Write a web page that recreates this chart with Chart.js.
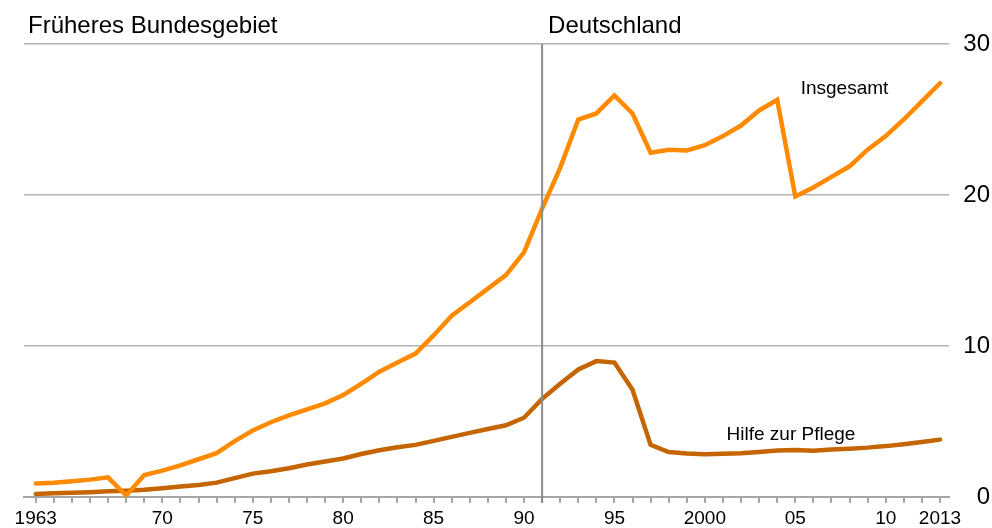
<!DOCTYPE html>
<html>
<head>
<meta charset="utf-8">
<script src="https://cdn.jsdelivr.net/npm/chart.js@4.4.1/dist/chart.umd.min.js"></script>
<style>
  body { margin: 0; background: #ffffff; }
  #wrap { width: 992px; height: 528px; }
</style>
</head>
<body>
<div id="wrap"><canvas id="sozialhilfeChart"></canvas></div>
<script>
/* ================= DATA ================= */
const years = [];
for (let y = 1963; y <= 2013; y++) years.push(y);

const insgesamt = [
  0.9, 0.95, 1.05, 1.15, 1.3, 0.1, 1.45, 1.75, 2.1, 2.5,
  2.9, 3.7, 4.4, 4.95, 5.4, 5.8, 6.2, 6.75, 7.5, 8.3,
  8.9, 9.5, 10.7, 12.0, 12.9, 13.8, 14.7, 16.2, 19.1, 21.8,
  25.0, 25.4, 26.6, 25.4, 22.8, 23.0, 22.95, 23.3, 23.9, 24.6,
  25.6, 26.3, 19.9, 20.5, 21.2, 21.9, 23.0, 23.9, 25.0, 26.2,
  27.4
];

const hilfeZurPflege = [
  0.2, 0.25, 0.28, 0.32, 0.38, 0.42, 0.48, 0.58, 0.7, 0.8,
  0.95, 1.25, 1.55, 1.7, 1.9, 2.15, 2.35, 2.55, 2.85, 3.1,
  3.3, 3.45, 3.72, 3.98, 4.25, 4.5, 4.75, 5.25, 6.5, 7.5,
  8.45, 9.0, 8.9, 7.1, 3.45, 2.98, 2.88, 2.83, 2.87, 2.9,
  2.98, 3.08, 3.12, 3.06, 3.15, 3.2, 3.27, 3.37, 3.5, 3.64,
  3.8
];

const labelYears = [1963, 1970, 1975, 1980, 1985, 1990, 1995, 2000, 2005, 2010, 2013];
const tickLabels = ["1963", "70", "75", "80", "85", "90", "95", "2000", "05", "10", "2013"];
const yTicks = [0, 10, 20, 30];
const splitYear = 1991;

const FONT = "'Liberation Sans', Arial, sans-serif";

/* ================= TEXT + DIVIDER PLUGIN ================= */
const overlayPlugin = {
  id: "overlay",
  afterDatasetsDraw(chart) {
    const { ctx, chartArea, scales } = chart;
    const x = scales.x;
    const y = scales.y;
    const xs = x.getPixelForValue(splitYear);

    ctx.save();
    ctx.strokeStyle = "#8c8c8c";
    ctx.lineWidth = 2;
    ctx.beginPath();
    ctx.moveTo(xs, chartArea.top);
    ctx.lineTo(xs, chartArea.bottom + 6);
    ctx.stroke();

    ctx.fillStyle = "#000000";
    ctx.textBaseline = "alphabetic";
    ctx.textAlign = "left";
    ctx.font = "24px " + FONT;
    ctx.fillText("Früheres Bundesgebiet", 28, 33);
    ctx.fillText("Deutschland", xs + 6, 33);

    ctx.font = "19px " + FONT;
    ctx.fillText("Insgesamt", x.getPixelForValue(2005.3), y.getPixelForValue(26.7));
    ctx.fillText("Hilfe zur Pflege", x.getPixelForValue(2001.2), y.getPixelForValue(3.8));
    ctx.restore();
  }
};

/* ================= CHART ================= */
const ctx = document.getElementById("sozialhilfeChart").getContext("2d");

new Chart(ctx, {
  type: "line",
  data: {
    labels: years,
    datasets: [
      {
        label: "Insgesamt",
        data: years.map((yr, i) => ({ x: yr, y: insgesamt[i] })),
        borderColor: "#ff8a00",
        borderWidth: 4.5,
        borderCapStyle: "round",
        pointRadius: 0,
        tension: 0
      },
      {
        label: "Hilfe zur Pflege",
        data: years.map((yr, i) => ({ x: yr, y: hilfeZurPflege[i] })),
        borderColor: "#c46500",
        borderWidth: 4.5,
        borderCapStyle: "round",
        pointRadius: 0,
        tension: 0
      }
    ]
  },
  options: {
    responsive: true,
    maintainAspectRatio: false,
    animation: false,
    events: [],
    layout: {
      padding: { top: 44, left: 24, right: 2, bottom: 0 }
    },
    plugins: {
      legend: { display: false },
      tooltip: { enabled: false }
    },
    scales: {
      x: {
        type: "linear",
        min: 1962.35,
        max: 2013.5,
        afterBuildTicks: (scale) => {
          scale.ticks = years.map(v => ({ value: v }));
        },
        afterFit: (scale) => { scale.height = 31; },
        border: { color: "#a6a6a6", width: 2 },
        grid: {
          drawOnChartArea: false,
          drawTicks: true,
          tickLength: 6,
          color: "#a6a6a6",
          lineWidth: 2
        },
        ticks: {
          autoSkip: false,
          maxRotation: 0,
          padding: 4,
          color: "#000000",
          font: { family: FONT, size: 19 },
          callback: (value) => {
            const idx = labelYears.indexOf(value);
            return idx >= 0 ? tickLabels[idx] : "";
          }
        }
      },
      y: {
        position: "right",
        min: 0,
        max: 30,
        afterBuildTicks: (scale) => {
          scale.ticks = yTicks.map(v => ({ value: v }));
        },
        afterFit: (scale) => { scale.width = 41; },
        border: { display: false },
        grid: {
          drawTicks: false,
          color: (c) => (c.tick && c.tick.value === 0 ? "rgba(0,0,0,0)" : "#b4b4b4"),
          lineWidth: 1.5
        },
        ticks: {
          crossAlign: "far",
          padding: 0,
          color: "#000000",
          font: { family: FONT, size: 24 }
        }
      }
    }
  },
  plugins: [overlayPlugin]
});
</script>
</body>
</html>
